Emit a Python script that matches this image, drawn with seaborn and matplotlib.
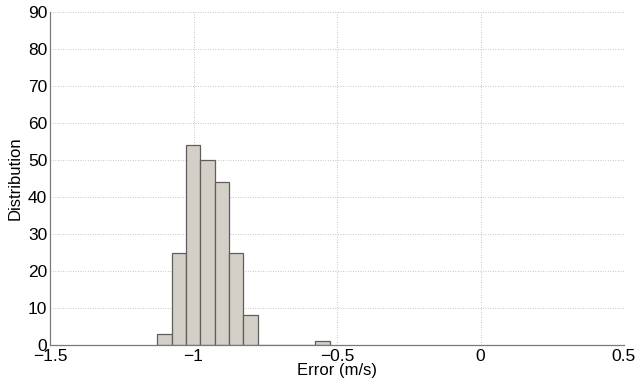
import numpy as np
import pandas as pd
import matplotlib
matplotlib.use("Agg")
import matplotlib.pyplot as plt
import seaborn as sns

# Data
bin_left_edges = [-1.126, -1.076, -1.026, -0.976, -0.926, -0.876, -0.826, -0.576]
counts = [3, 25, 54, 50, 44, 25, 8, 1]
bin_width = 0.05
x_ticks = [-1.5, -1.0, -0.5, 0.0, 0.5]
x_tick_labels = ["\u22121.5", "\u22121", "\u22120.5", "0", "0.5"]
y_ticks = [0, 10, 20, 30, 40, 50, 60, 70, 80, 90]

sns.set_style("white")
plt.rcParams['font.family'] = ['Liberation Sans', 'DejaVu Sans']
plt.rcParams['text.color'] = 'black'
plt.rcParams['axes.labelcolor'] = 'black'
plt.rcParams['xtick.color'] = 'black'
plt.rcParams['ytick.color'] = 'black'

centers = [e + bin_width / 2 for e in bin_left_edges]
df = pd.DataFrame({"error": centers, "count": counts})

fig = plt.figure(figsize=(6.36, 3.85), dpi=100)
ax = fig.add_axes([50/636, 1 - 345/385, (624 - 50)/636, (345 - 12)/385])

sns.histplot(data=df, x="error", weights="count", binwidth=bin_width,
             binrange=(-1.126, -0.526), ax=ax,
             color="#d4d0c8", edgecolor="#5e5e5e", linewidth=0.9, alpha=1.0)

ax.set_xlim(-1.5, 0.5)
ax.set_ylim(0, 90)
ax.set_xticks(x_ticks)
ax.set_xticklabels(x_tick_labels)
ax.set_yticks(y_ticks)
ax.grid(True, linestyle=(0, (1, 2)), color="#b2b2b2", linewidth=0.6)
ax.set_axisbelow(True)
for s in ["top", "right"]:
    ax.spines[s].set_visible(False)
for s in ["left", "bottom"]:
    ax.spines[s].set_color("#7a7a7a")
    ax.spines[s].set_linewidth(0.9)
ax.tick_params(axis="both", direction="in", length=3, color="#7a7a7a",
               labelcolor="black", labelsize=12.5)
ax.tick_params(axis="x", pad=3)
ax.tick_params(axis="y", pad=2)
ax.set_xlabel("Error (m/s)", fontsize=12, labelpad=-1, color="black")
ax.set_ylabel("Distribution", fontsize=12, labelpad=4, color="black")

fig.savefig("out.png", dpi=100)
